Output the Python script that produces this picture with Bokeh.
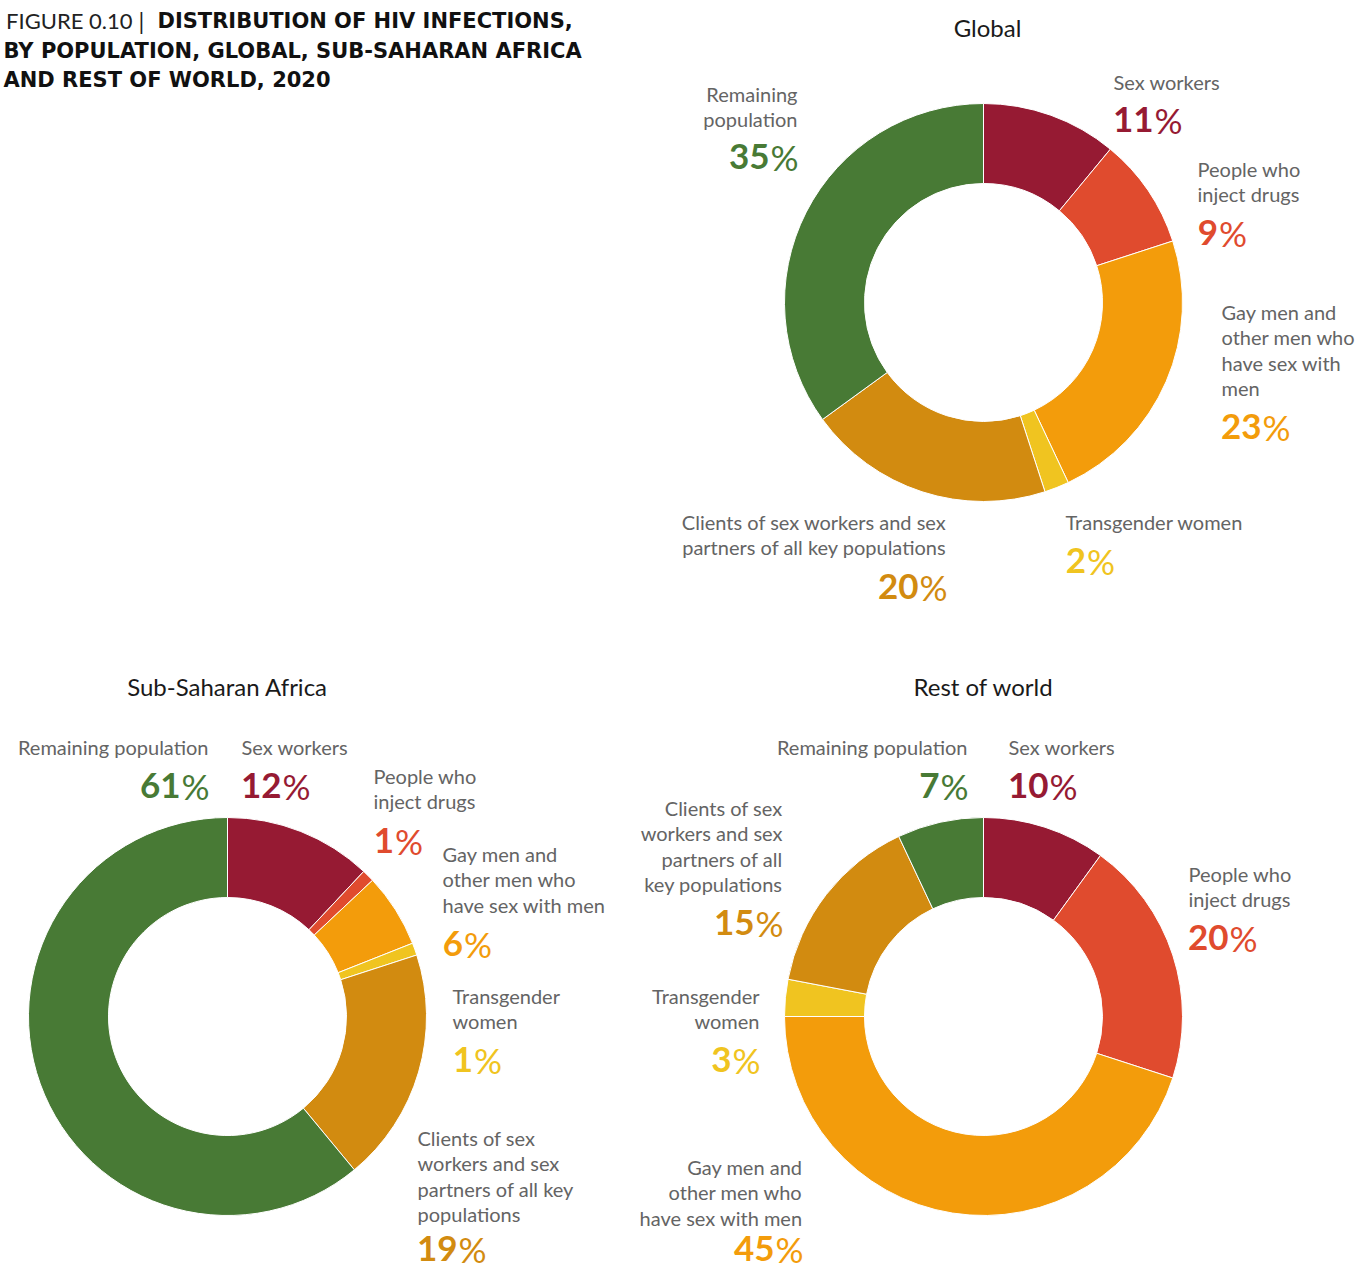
import math
from bokeh.plotting import figure
from bokeh.models import Range1d, ColumnDataSource
from bokeh.core.properties import value
from bokeh.embed import file_html
from bokeh.resources import INLINE

# ---------------- data ----------------
segments = [
    "Sex workers",
    "People who inject drugs",
    "Gay men and other men who have sex with men",
    "Transgender women",
    "Clients of sex workers and sex partners of all key populations",
    "Remaining population",
]
seg_colors = ["#961a33", "#e04b2e", "#f39c0b", "#f0c420", "#d28b10", "#487a35"]

global_vals = [11, 9, 23, 2, 20, 35]
ssa_vals = [12, 1, 6, 1, 19, 61]
row_vals = [10, 20, 45, 3, 15, 7]

chart_titles = ["Global", "Sub-Saharan Africa", "Rest of world"]

global_lines = [
    ["Sex workers"],
    ["People who", "inject drugs"],
    ["Gay men and", "other men who", "have sex with", "men"],
    ["Transgender women"],
    ["Clients of sex workers and sex", "partners of all key populations"],
    ["Remaining", "population"],
]
ssa_lines = [
    ["Sex workers"],
    ["People who", "inject drugs"],
    ["Gay men and", "other men who", "have sex with men"],
    ["Transgender", "women"],
    ["Clients of sex", "workers and sex", "partners of all key", "populations"],
    ["Remaining population"],
]
row_lines = [
    ["Sex workers"],
    ["People who", "inject drugs"],
    ["Gay men and", "other men who", "have sex with men"],
    ["Transgender", "women"],
    ["Clients of sex", "workers and sex", "partners of all", "key populations"],
    ["Remaining population"],
]

fig_label = "FIGURE 0.10"
fig_title_lines = ["DISTRIBUTION OF HIV INFECTIONS,",
                   "BY POPULATION, GLOBAL, SUB-SAHARAN AFRICA",
                   "AND REST OF WORLD, 2020"]

# ---------------- layout (page pixel coordinates, y = visual centre) ----------------
W, H = 1359, 1270
R_OUT, R_IN = 199, 119
LINE_STEP = 25.5
FONT = "Lato"
HEAD_FONT = "DejaVu Sans"
LABEL_FS = 20
PCT_FS = 35
DIGIT_W = 19.5
PCT_W = 28.0
DY = -1

# per chart: centre, title position, label anchors (x, first-line centre, pct centre, align)
layouts = [
    dict(cx=983, cy=302, tx=987, ty=28,
         anchors=[(1113, 82, 120, "left"), (1197, 169, 233, "left"),
                  (1221, 312, 427, "left"), (1065, 522, 561, "left"),
                  (946, 522, 587, "right"), (797, 94, 157, "right")]),
    dict(cx=227, cy=1016, tx=227, ty=687,
         anchors=[(241, 747, 786, "left"), (373, 776, 841, "left"),
                  (442, 854, 944, "left"), (452, 996, 1060, "left"),
                  (417, 1138, 1249, "left"), (208, 747, 786, "right")]),
    dict(cx=983, cy=1016, tx=983, ty=687,
         anchors=[(1008, 747, 786, "left"), (1188, 874, 938, "left"),
                  (802, 1167, 1249, "right"), (759, 996, 1060, "right"),
                  (782, 808, 923, "right"), (967, 747, 786, "right")]),
]
all_vals = [global_vals, ssa_vals, row_vals]
all_lines = [global_lines, ssa_lines, row_lines]

p = figure(width=W, height=H, output_backend="svg", toolbar_location=None,
           x_range=Range1d(0, W), y_range=Range1d(-H, 0),
           min_border=0)
p.axis.visible = False
p.xgrid.visible = False
p.ygrid.visible = False
p.outline_line_color = None
p.background_fill_color = "white"
p.border_fill_color = "white"

label_rows = {"left": dict(x=[], y=[], text=[]), "right": dict(x=[], y=[], text=[])}
num_rows = dict(x=[], y=[], text=[], color=[])
pct_sign = dict(x=[], y=[], text=[], color=[])

for ci, (lay, vals, lines) in enumerate(zip(layouts, all_vals, all_lines)):
    total = float(sum(vals))
    starts, ends = [], []
    cum = 0.0
    for v in vals:
        starts.append(math.pi / 2 - 2 * math.pi * (cum + v) / total)
        ends.append(math.pi / 2 - 2 * math.pi * cum / total)
        cum += v
    src = ColumnDataSource(dict(
        x=[lay["cx"]] * len(vals), y=[-lay["cy"]] * len(vals),
        start=starts, end=ends, color=seg_colors, name=segments, val=vals))
    p.annular_wedge(x="x", y="y", inner_radius=R_IN, outer_radius=R_OUT,
                    start_angle="start", end_angle="end", direction="anticlock",
                    fill_color="color", line_color="white", line_width=1,
                    source=src)

    p.text(x=[lay["tx"]], y=[-(lay["ty"] + DY)], text=[chart_titles[ci]],
           text_align="center", text_baseline="middle",
           text_font=value(FONT), text_font_size="24px", text_color="#1a1a1a")

    for si, (anc, v) in enumerate(zip(lay["anchors"], vals)):
        x0, c1, pc, align = anc
        for li, ln in enumerate(lines[si]):
            label_rows[align]["x"].append(x0)
            label_rows[align]["y"].append(-(c1 + DY + li * LINE_STEP))
            label_rows[align]["text"].append(ln)
        num = str(v)
        if align == "left":
            split = x0 + len(num) * DIGIT_W + 1
        else:
            split = x0 - PCT_W
        num_rows["x"].append(split)
        num_rows["y"].append(-(pc + DY))
        num_rows["text"].append(num)
        num_rows["color"].append(seg_colors[si])
        pct_sign["x"].append(split + 1)
        pct_sign["y"].append(-(pc + DY))
        pct_sign["text"].append("%")
        pct_sign["color"].append(seg_colors[si])

for align in ("left", "right"):
    p.text(x="x", y="y", text="text", source=ColumnDataSource(label_rows[align]),
           text_align=align, text_baseline="middle",
           text_font=value(FONT), text_font_size=f"{LABEL_FS}px", text_color="#646464")

p.text(x="x", y="y", text="text", text_color="color", source=ColumnDataSource(num_rows),
       text_align="right", text_baseline="middle", text_font=value(FONT),
       text_font_size=f"{PCT_FS}px", text_font_style="bold")
p.text(x="x", y="y", text="text", text_color="color", source=ColumnDataSource(pct_sign),
       text_align="left", text_baseline="middle", text_font=value(FONT),
       text_font_size=f"{PCT_FS}px")

# figure heading
p.text(x=[132], y=[-(21 + DY)], text=[fig_label], text_align="right", text_baseline="middle",
       text_font=value(FONT), text_font_size="22px", text_color="#222222")
p.text(x=[141], y=[-(21 + DY)], text=["|"], text_align="center", text_baseline="middle",
       text_font=value(FONT), text_font_size="23px", text_color="#222222")
p.text(x=[157, 3, 3], y=[-(21 + DY), -(51 + DY), -(80 + DY)], text=fig_title_lines,
       text_align="left", text_baseline="middle", text_font=value(HEAD_FONT),
       text_font_size="21px", text_font_style="bold", text_color="#111111")

open("out.html", "w").write(file_html(p, INLINE))
